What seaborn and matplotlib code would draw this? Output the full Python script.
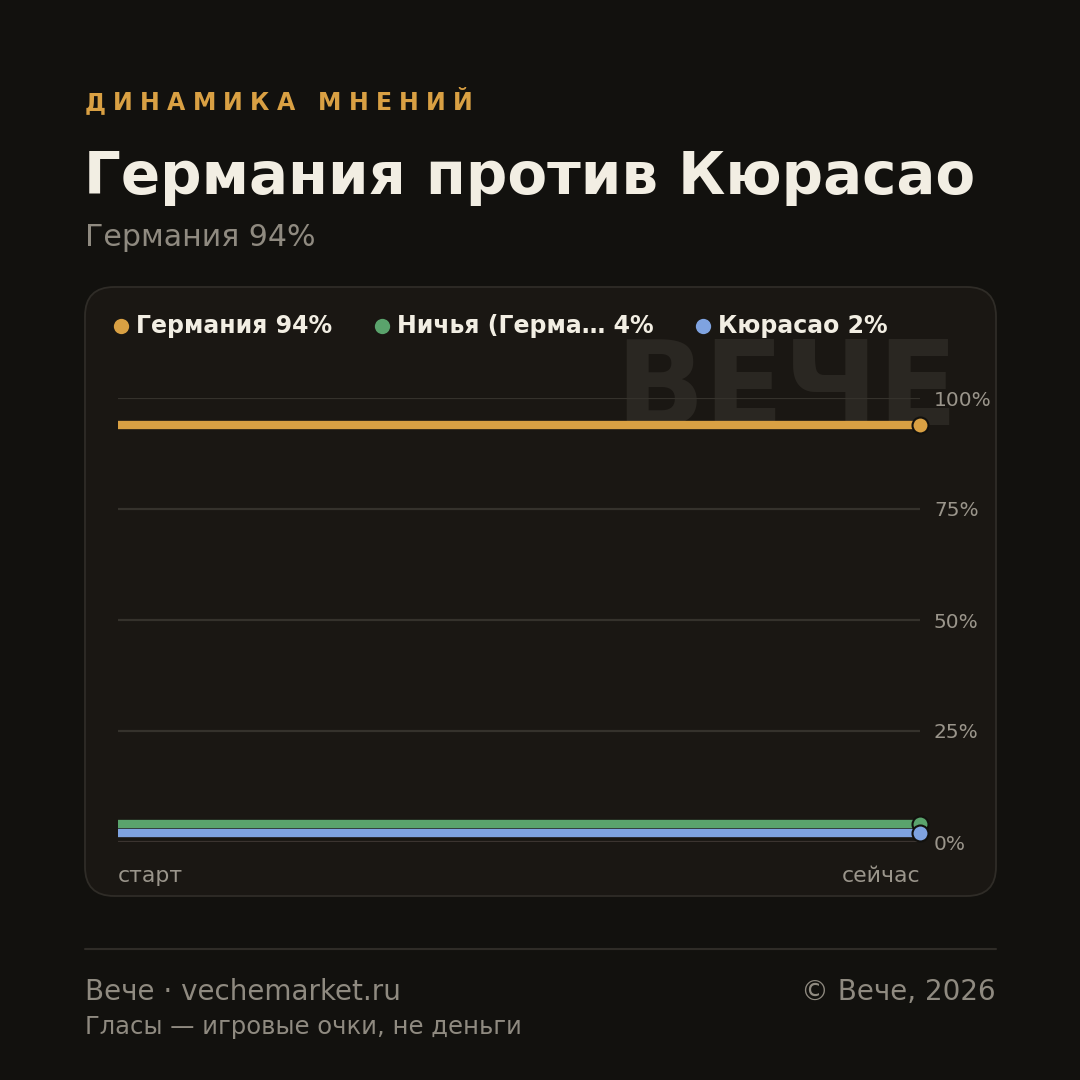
import matplotlib
matplotlib.use("Agg")
import matplotlib.pyplot as plt
import seaborn as sns
import pandas as pd
from matplotlib.patches import FancyBboxPatch
from matplotlib.lines import Line2D

# ---- data ----
outcomes = ["Германия", "Ничья (Герма…", "Кюрасао"]
shares = [94, 4, 2]
x_labels = ["старт", "сейчас"]
y_ticks = [0, 25, 50, 75, 100]
colors = ["#d9a043", "#5aa36c", "#7fa3e0"]

BG = "#12110e"
PANEL = "#1a1713"
GRID = "#35322c"
MUTED = "#9a958b"
TEXT = "#f2eee3"

sns.set_theme(style="dark")
plt.rcParams["font.family"] = ["DejaVu Sans"]

fig = plt.figure(figsize=(10.8, 10.8), dpi=100, facecolor=BG)
W = H = 1080.0

def fx(px): return px / W
def fy(py): return 1 - py / H

# panel
panel = FancyBboxPatch((fx(85), fy(896)), fx(996) - fx(85), fy(287) - fy(896),
                       boxstyle="round,pad=0,rounding_size=0.027",
                       transform=fig.transFigure, facecolor=PANEL,
                       edgecolor="#2f2c27", linewidth=1.3, zorder=-2)
fig.patches.append(panel)

# watermark
fig.text(fx(958), fy(425), "ВЕЧЕ", fontsize=84, fontweight="bold",
         color="#2a2722", ha="right", va="baseline", zorder=-1)

ax = fig.add_axes([fx(118), fy(842), fx(920) - fx(118), fy(398) - fy(842)])
ax.set_zorder(2)
ax.set_facecolor("none")
ax.patch.set_alpha(0)

rows = []
for name, v in zip(outcomes, shares):
    for i, xl in enumerate(x_labels):
        rows.append({"outcome": name, "x": i, "share": v})
df = pd.DataFrame(rows)

for y in y_ticks:
    ax.axhline(y, color="#3b3430" if y == 0 else GRID, lw=1.6, zorder=1)

sns.lineplot(data=df, x="x", y="share", hue="outcome", hue_order=outcomes,
             palette=colors, linewidth=6, legend=False, ax=ax, zorder=3)
for line in ax.lines[len(y_ticks):]:
    line.set_solid_capstyle("butt")

end = df[df["x"] == 1]
for name, c in zip(outcomes, colors):
    r = end[end["outcome"] == name]
    ax.plot(r["x"], r["share"], "o", ms=11.5, color=c, mec=BG, mew=1.5,
            clip_on=False, zorder=5)

ax.set_xlim(0, 1)
ax.set_ylim(0, 100)
for s in ax.spines.values():
    s.set_visible(False)
ax.grid(False)
ax.set_xticks([])
ax.set_xlabel("")
ax.set_ylabel("")
ax.yaxis.tick_right()
ax.set_yticks(y_ticks)
ax.set_yticklabels([f"{t}%" for t in y_ticks], color=MUTED, fontsize=14.5)
ax.tick_params(axis="y", length=0, pad=10)

# x labels
fig.text(fx(118), fy(876), x_labels[0], color=MUTED, fontsize=15.8, ha="left", va="center")
fig.text(fx(920), fy(876), x_labels[1], color=MUTED, fontsize=15.8, ha="right", va="center")

# legend
leg_x = [121, 382, 703]
for lx, name, v, c in zip(leg_x, outcomes, shares, colors):
    fig.add_artist(Line2D([fx(lx)], [fy(326)], marker="o", ms=11, color=c,
                          mec="none", transform=fig.transFigure))
    fig.text(fx(lx + 15), fy(326), f"{name} {v}%", color=TEXT, fontsize=17,
             fontweight="bold", ha="left", va="center")

# header with letter spacing
kicker = "ДИНАМИКА МНЕНИЙ"
fig.canvas.draw()
r = fig.canvas.get_renderer()
xpos = 85
for ch in kicker:
    t = fig.text(fx(xpos), fy(110), ch, color="#d9a043", fontsize=17,
                 fontweight="bold", ha="left", va="baseline")
    w = t.get_window_extent(renderer=r).width if ch != " " else 9
    xpos += w + 7.2

fig.text(fx(84), fy(194), "Германия против Кюрасао", color=TEXT, fontsize=41.7,
         fontweight="bold", ha="left", va="baseline")
fig.text(fx(85), fy(246), f"{outcomes[0]} {shares[0]}%", color="#8f8a80",
         fontsize=21.6, ha="left", va="baseline")

# footer
fig.add_artist(Line2D([fx(85), fx(996)], [fy(949), fy(949)], color="#2f2c27",
                      lw=1.5, transform=fig.transFigure))
fig.text(fx(85), fy(1000), "Вече · vechemarket.ru", color="#8f8a80", fontsize=20,
         ha="left", va="baseline")
fig.text(fx(996), fy(1000), "© Вече, 2026", color="#8f8a80", fontsize=20,
         ha="right", va="baseline")
fig.text(fx(85), fy(1034), "Гласы — игровые очки, не деньги", color="#8f8a80",
         fontsize=17.5, ha="left", va="baseline")

fig.savefig("out.png", dpi=100, facecolor=BG)
